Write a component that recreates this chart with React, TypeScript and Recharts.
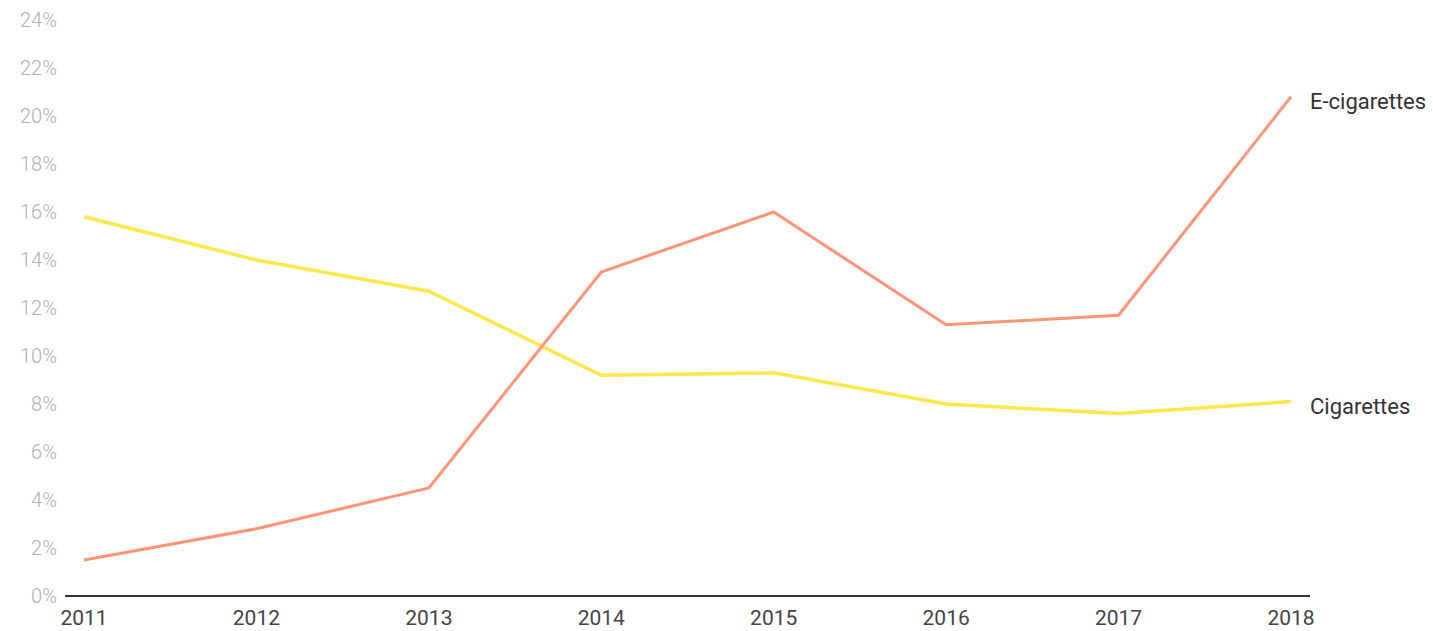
import { LineChart, Line, XAxis, YAxis } from 'recharts'

const years = ['2011', '2012', '2013', '2014', '2015', '2016', '2017', '2018']
const eCigarettes = [1.5, 2.8, 4.5, 13.5, 16.0, 11.3, 11.7, 20.8]
const cigarettes = [15.8, 14.0, 12.7, 9.2, 9.3, 8.0, 7.6, 8.1]
const yTicks = [0, 2, 4, 6, 8, 10, 12, 14, 16, 18, 20, 22, 24]

const data = years.map((year, i) => ({
  year,
  ecig: eCigarettes[i],
  cig: cigarettes[i],
}))

const endLabel = (name: string) => (props: any) => {
  const { x, y, index } = props
  if (index !== years.length - 1) return null
  return (
    <text x={x + 19} y={y + 12} fontSize={22} fill="#333" fontFamily="Roboto">
      {name}
    </text>
  )
}

const App = () => {
  return (
    <div style={{ position: 'absolute', left: 0, top: 0, background: '#fff' }}>
      <LineChart
        width={1433}
        height={631}
        data={data}
        margin={{ top: 20, right: 123, bottom: 0, left: 0 }}
      >
        <XAxis
          dataKey="year"
          padding={{ left: 19, right: 19 }}
          axisLine={{ stroke: '#333', strokeWidth: 2 }}
          tickLine={false}
          tickMargin={8}
          height={35}
          tick={{ fill: '#444', fontSize: 21, fontFamily: 'Roboto' }}
        />
        <YAxis
          width={65}
          domain={[0, 24]}
          ticks={yTicks}
          interval={0}
          axisLine={false}
          tickLine={false}
          tickFormatter={(v) => `${v}%`}
          tick={{ fill: '#b0b0b0', fontSize: 20, fontFamily: 'Roboto', fontWeight: 300 }}
        />
        <Line
          dataKey="cig"
          stroke="#fde74c"
          strokeWidth={3.5}
          dot={false}
          isAnimationActive={false}
          label={endLabel('Cigarettes')}
        />
        <Line
          dataKey="ecig"
          stroke="#ff9479"
          strokeWidth={3}
          dot={false}
          isAnimationActive={false}
          label={endLabel('E-cigarettes')}
        />
      </LineChart>
    </div>
  )
}

export default App
